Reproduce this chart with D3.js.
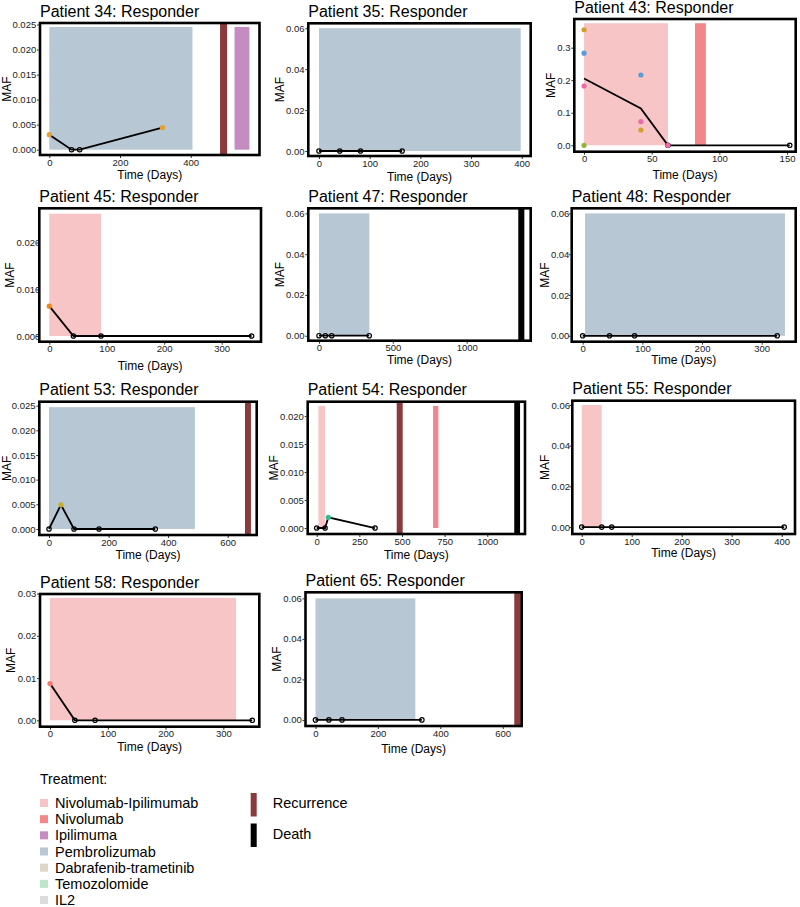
<!DOCTYPE html>
<html>
<head>
<meta charset="utf-8">
<script src="https://cdn.jsdelivr.net/npm/d3@7"></script>
<style>
  body { margin: 0; background: #fff; }
  svg { font-family: "Liberation Sans", Arial, Helvetica, sans-serif; }
  .tick text { fill: #222; font-size: 9.5px; font-family: "Liberation Sans", Arial, sans-serif; }
  .tick line { stroke: #333; }
</style>
</head>
<body>
<svg id="chart" width="800" height="907"></svg>
<script>
// ---- data ----
const patients = ["34", "35", "43", "45", "47", "48", "53", "54", "55", "58", "65"];

const treatmentNames = ["Nivolumab-Ipilimumab", "Nivolumab", "Ipilimuma", "Pembrolizumab",
                        "Dabrafenib-trametinib", "Temozolomide", "IL2"];
const eventNames = ["Recurrence", "Death"];

// [patient, treatment, start day, end day, top MAF]
const treatmentSpans = [
  ["34", "Pembrolizumab", 0, 405, 0.0245],
  ["34", "Ipilimuma", 524, 566, 0.0245],
  ["35", "Pembrolizumab", 0, 398, 0.06],
  ["43", "Nivolumab-Ipilimumab", 0, 62, 0.375],
  ["43", "Nivolumab", 82, 90, 0.375],
  ["45", "Nivolumab-Ipilimumab", 0, 90, 0.0262],
  ["47", "Pembrolizumab", 0, 341, 0.06],
  ["48", "Pembrolizumab", 4, 339, 0.06],
  ["53", "Pembrolizumab", 0, 490, 0.0247],
  ["54", "Nivolumab-Ipilimumab", 10, 49, 0.0218],
  ["54", "Nivolumab", 682, 713, 0.0218],
  ["55", "Nivolumab-Ipilimumab", 0, 40, 0.06],
  ["58", "Nivolumab-Ipilimumab", 0, 322, 0.029],
  ["65", "Pembrolizumab", 0, 320, 0.06]
];

// [patient, event, start day, end day]
const clinicalEvents = [
  ["34", "Recurrence", 483, 503],
  ["47", "Death", 1349, 1390],
  ["53", "Recurrence", 658, 678],
  ["54", "Recurrence", 469, 504],
  ["54", "Death", 1158, 1192],
  ["65", "Recurrence", 637, 658]
];

// mean MAF per sample: [patient, day, MAF]
const meanMaf = [
  ["34", 0, 0.003], ["34", 63, 0], ["34", 86, 0], ["34", 320, 0.0044],
  ["35", 0, 0], ["35", 41, 0], ["35", 82, 0], ["35", 164, 0],
  ["43", 0, 0.205], ["43", 42, 0.113], ["43", 62, 0], ["43", 152, 0],
  ["45", 0, 0.0064], ["45", 42, 0], ["45", 90, 0], ["45", 352, 0],
  ["47", 0, 0], ["47", 43, 0], ["47", 86, 0], ["47", 340, 0],
  ["48", 0, 0], ["48", 45, 0], ["48", 87, 0], ["48", 326, 0],
  ["53", 0, 0], ["53", 40, 0.0049], ["53", 84, 0], ["53", 168, 0], ["53", 357, 0],
  ["54", 0, 0], ["54", 49, 0], ["54", 68, 0.0019], ["54", 342, 0],
  ["55", 0, 0], ["55", 40, 0], ["55", 60, 0], ["55", 405, 0],
  ["58", 0, 0.0087], ["58", 43, 0], ["58", 78, 0], ["58", 350, 0],
  ["65", 0, 0], ["65", 43, 0], ["65", 85, 0], ["65", 341, 0]
];

// detected mutations: [patient, day, MAF, mutation group]
const mutationMaf = [
  ["34", 0, 0.003, "g1"], ["34", 320, 0.0044, "g1"],
  ["43", 0, 0.355, "g3"], ["43", 0, 0.283, "g4"], ["43", 0, 0.182, "g5"], ["43", 0, 0, "g6"],
  ["43", 42, 0.216, "g4"], ["43", 42, 0.073, "g5"], ["43", 42, 0.047, "g3"], ["43", 62, 0, "g5"],
  ["45", 0, 0.0064, "g2"],
  ["53", 40, 0.0049, "g7"],
  ["54", 68, 0.0019, "g8"],
  ["58", 0, 0.0087, "g9"]
];

const xTickValues = [
  [0, 200, 400], [0, 100, 200, 300, 400], [0, 50, 100, 150],
  [0, 100, 200, 300], [0, 500, 1000], [0, 100, 200, 300],
  [0, 200, 400, 600], [0, 250, 500, 750, 1000], [0, 100, 200, 300, 400],
  [0, 100, 200, 300], [0, 200, 400, 600]
];
const yTickValues = [
  [0, 0.005, 0.01, 0.015, 0.02, 0.025], [0, 0.02, 0.04, 0.06], [0, 0.1, 0.2, 0.3],
  [0, 0.01, 0.02], [0, 0.02, 0.04, 0.06], [0, 0.02, 0.04, 0.06],
  [0, 0.005, 0.01, 0.015, 0.02, 0.025], [0, 0.005, 0.01, 0.015, 0.02], [0, 0.02, 0.04, 0.06],
  [0, 0.01, 0.02, 0.03], [0, 0.02, 0.04, 0.06]
];
const yDecimals = [3, 2, 1, 3, 2, 2, 3, 3, 2, 2, 2];

// scale limits (ggplot-expanded)
const xDomains = [
  [-26.3, 594.6], [-21.1, 417.7], [-7.2, 156.4],
  [-17.4, 368.4], [-72.4, 1433], [-18.4, 357],
  [-32.6, 697.4], [-52.8, 1221], [-18.8, 426.6],
  [-17.3, 362.2], [-32, 660.8]
];
const yDomains = [
  [-0.00106, 0.0253], [-0.00245, 0.0624], [-0.0197, 0.388],
  [-0.00122, 0.02736], [-0.00245, 0.0625], [-0.0029, 0.0625],
  [-0.00122, 0.0258], [-0.00107, 0.02255], [-0.0034, 0.0621],
  [-0.00152, 0.0299], [-0.003, 0.063]
];

// ---- layout ----
// panel box [left, top, right, bottom]
const boxes = [
  [40, 23, 259.5, 155], [308.3, 23.3, 530.7, 156], [574.3, 19, 795.7, 151.7],
  [39.3, 208.3, 261, 341.7], [308.3, 208.3, 530.7, 340.7], [571.7, 208.3, 795.7, 341.7],
  [39.3, 401.7, 256.7, 535], [307.7, 401.7, 525, 534], [572.3, 400.7, 795, 534],
  [40, 594, 259.3, 726.7], [305.5, 592.3, 521.7, 726]
];
const xTitleOffsets = [20, 20.7, 23.3, 24, 19, 18, 20, 20.3, 19, 20, 22.3];
const yLabelShift = [0, 0, 0, 4.8, 0, 1.5, 0, 0, 1.5, 0, 0];

const treatColor = d3.scaleOrdinal().domain(treatmentNames)
  .range(["#f8c5c7", "#f3868a", "#c48cc1", "#b7c8d4", "#ddd6c6", "#bfe4cc", "#dcdcdc"]);
const eventColor = d3.scaleOrdinal().domain(eventNames).range(["#8a3a3d", "#000000"]);
const mutColor = d3.scaleOrdinal()
  .domain(["g1", "g2", "g3", "g4", "g5", "g6", "g7", "g8", "g9"])
  .range(["#e3a032", "#e8891d", "#d39f2a", "#5b9bd8", "#ec6aa8", "#93b53b", "#c8ab2c", "#2dbd8e", "#f4766f"]);

const svg = d3.select("#chart");
const defs = svg.append("defs");

patients.forEach((p, i) => {
  const [L, T, R, B] = boxes[i];
  const x = d3.scaleLinear().domain(xDomains[i]).range([L, R]);
  const y = d3.scaleLinear().domain(yDomains[i]).range([B, T]);
  const g = svg.append("g").attr("class", "panel");

  // treatment windows
  g.selectAll("rect.span")
    .data(treatmentSpans.filter(d => d[0] === p))
    .join("rect")
    .attr("class", "span")
    .attr("x", d => x(d[2]))
    .attr("width", d => x(d[3]) - x(d[2]))
    .attr("y", d => y(d[4]))
    .attr("height", d => y(0) - y(d[4]))
    .attr("fill", d => treatColor(d[1]));

  // recurrence / death bars
  g.selectAll("rect.event")
    .data(clinicalEvents.filter(d => d[0] === p))
    .join("rect")
    .attr("class", "event")
    .attr("x", d => x(d[2]))
    .attr("width", d => x(d[3]) - x(d[2]))
    .attr("y", T)
    .attr("height", B - T)
    .attr("fill", d => eventColor(d[1]));

  // mean MAF line
  const pts = meanMaf.filter(d => d[0] === p);
  const line = d3.line().x(d => x(d[1])).y(d => y(d[2]));
  g.append("path").datum(pts)
    .attr("d", line)
    .attr("fill", "none")
    .attr("stroke", "#000")
    .attr("stroke-width", 1.8);

  // undetected samples
  g.selectAll("circle.open")
    .data(pts.filter(d => d[2] === 0))
    .join("circle")
    .attr("class", "open")
    .attr("cx", d => x(d[1]))
    .attr("cy", d => y(d[2]))
    .attr("r", 2.2)
    .attr("fill", "none")
    .attr("stroke", "#000")
    .attr("stroke-width", 1.2);

  // detected mutations
  g.selectAll("circle.mut")
    .data(mutationMaf.filter(d => d[0] === p))
    .join("circle")
    .attr("class", "mut")
    .attr("cx", d => x(d[1]))
    .attr("cy", d => y(d[2]))
    .attr("r", 2.6)
    .attr("fill", d => mutColor(d[3]));

  // axes
  const xAxis = g.append("g")
    .attr("transform", `translate(0,${B})`)
    .attr("font-family", null).attr("font-size", null)
    .call(d3.axisBottom(x).tickValues(xTickValues[i]).tickSize(3).tickPadding(1).tickFormat(d3.format("d")));
  xAxis.select(".domain").remove();

  // clip in the axis group's own coordinates (it is translated by L)
  defs.append("clipPath").attr("id", "yclip" + i)
    .append("rect").attr("x", -60).attr("y", T - 10).attr("width", 58.8).attr("height", B - T + 20);

  const yAxis = g.append("g")
    .attr("transform", `translate(${L},0)`)
    .attr("font-family", null).attr("font-size", null)
    .attr("clip-path", `url(#yclip${i})`)
    .call(d3.axisLeft(y).tickValues(yTickValues[i]).tickSize(3).tickPadding(0.8)
      .tickFormat(d3.format("." + yDecimals[i] + "f")));
  yAxis.select(".domain").remove();
  yAxis.selectAll(".tick text").attr("dx", yLabelShift[i]);

  let labelLeft = L;
  yAxis.selectAll(".tick text").each(function () {
    const bb = this.getBBox();
    labelLeft = Math.min(labelLeft, bb.x + L);
  });

  // panel border
  g.append("rect")
    .attr("x", L).attr("y", T)
    .attr("width", R - L).attr("height", B - T)
    .attr("fill", "none")
    .attr("stroke", "#000")
    .attr("stroke-width", 2.6);

  // titles
  g.append("text")
    .attr("x", L)
    .attr("y", T - 6.5)
    .style("font-size", "16px")
    .attr("fill", "#000")
    .text(`Patient ${p}: Responder`);

  g.append("text")
    .attr("x", (L + R) / 2)
    .attr("y", B + xTitleOffsets[i] + 4.2)
    .attr("text-anchor", "middle")
    .style("font-size", "12px")
    .text("Time (Days)");

  g.append("text")
    .attr("transform", `translate(${Math.max(labelLeft - 6.5, 6.5)},${(T + B) / 2}) rotate(-90)`)
    .attr("text-anchor", "middle")
    .attr("dy", "0.35em")
    .style("font-size", "12px")
    .text("MAF");
});

// ---- legend ----
const legend = svg.append("g").attr("class", "legend");
legend.append("text")
  .attr("x", 40).attr("y", 784)
  .style("font-size", "14px")
  .text("Treatment:");

const rowY = d3.scalePoint().domain(treatmentNames).range([803, 900]);
legend.selectAll("rect.key")
  .data(treatmentNames)
  .join("rect")
  .attr("class", "key")
  .attr("x", 40).attr("y", d => rowY(d) - 4)
  .attr("width", 8).attr("height", 8)
  .attr("fill", d => treatColor(d));
legend.selectAll("text.key")
  .data(treatmentNames)
  .join("text")
  .attr("class", "key")
  .attr("x", 55).attr("y", d => rowY(d) + 5)
  .style("font-size", "14.5px")
  .text(d => d);

const eventY = d3.scalePoint().domain(eventNames).range([804.5, 835]);
legend.selectAll("rect.ev")
  .data(eventNames)
  .join("rect")
  .attr("class", "ev")
  .attr("x", 250.7).attr("y", d => eventY(d) - 11.5)
  .attr("width", 6).attr("height", 23.5)
  .attr("fill", d => eventColor(d));
legend.selectAll("text.ev")
  .data(eventNames)
  .join("text")
  .attr("class", "ev")
  .attr("x", 272.7).attr("y", d => eventY(d) + 3.5)
  .style("font-size", "14.5px")
  .text(d => d);
</script>
</body>
</html>
